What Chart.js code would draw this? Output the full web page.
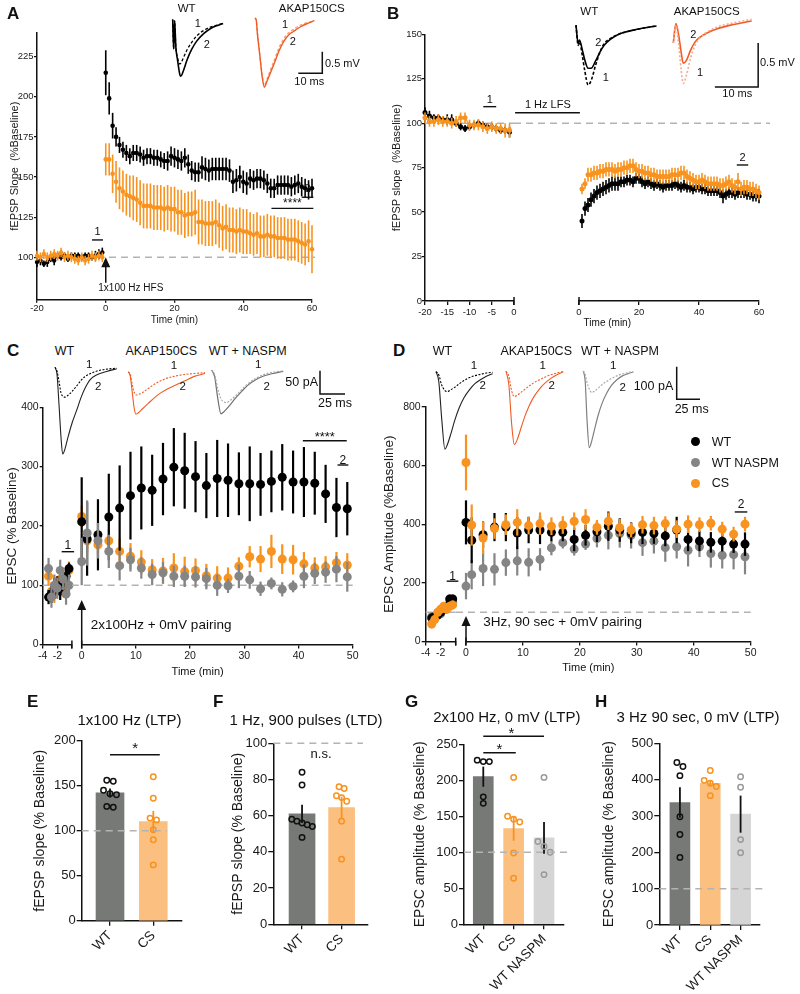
<!DOCTYPE html>
<html>
<head>
<meta charset="utf-8">
<title>AKAP150CS plasticity</title>
<script src="https://cdn.jsdelivr.net/npm/chart.js@4.4.1/dist/chart.umd.min.js"></script>
<style>
  html, body { margin: 0; background: #fff; }
  #fig { position: relative; width: 800px; height: 994px; overflow: hidden; background: #fff; }
  #fig canvas { position: absolute; }
  .t { position: absolute; color: #111; white-space: nowrap; z-index: 5; }
</style>
</head>
<body>
<div id="fig"></div>
<script>
// ---------- data ----------
// A: fEPSP slope, 1x100 Hz HFS
const aBaseTime = [-20,-19,-18,-17,-16,-15,-14,-13,-12,-11,-10,-9,-8,-7,-6,-5,-4,-3,-2,-1];
const aPostTime = [0,1,2,3,4,5,6,7,8,9,10,11,12,13,14,15,16,17,18,19,20,21,22,23,24,25,26,27,28,29,30,
  31,32,33,34,35,36,37,38,39,40,41,42,43,44,45,46,47,48,49,50,51,52,53,54,55,56,57,58,59,60];
const aYTicks = [100,125,150,175,200,225];
const aWtBase = [97,98,96,97,99,98,101,100,101,99,101,101,101,100,101,101,100,101,102,103];
const aWtBaseErr = [3,3,2,3,2,3,2,2,2,2,2,2,2,2,2,2,2,3,3,3];
const aCsBase = [101,100,102,100,101,102,101,103,100,101,100,99,98,100,98,99,101,100,101,100];
const aCsBaseErr = [3,3,3,3,3,3,3,3,3,3,3,3,3,3,3,3,3,3,3,3];
const aWtPost = [215,199,182,175,170,167,165,163,165,165,
  164,162,163,163,162,162,161,160,160,163,
  162,161,160,162,158,154,153,153,156,155,
  154,155,155,155,155,155,154,147,148,150,
  147,146,149,148,149,149,148,146,143,143,
  145,145,145,145,144,145,146,144,143,142,
  143];
const aWtPostErr = [14,10,8,6,5,5,5,5,5,5,
  5,5,5,5,5,5,5,5,6,6,
  6,6,6,6,6,6,6,6,7,7,
  7,7,7,7,7,7,7,7,7,7,
  7,7,6,6,6,6,6,6,6,6,
  6,6,6,6,6,6,6,6,6,6,
  6];
const aCsPost = [161,161,152,147,143,141,139,138,137,136,
  134,132,132,132,131,131,131,130,131,130,
  130,128,128,126,127,127,128,122,122,121,
  121,121,122,120,118,119,117,117,116,117,
  116,116,115,114,115,113,113,114,113,113,
  112,112,112,111,111,111,110,109,108,110,
  105];
const aCsPostErr = [10,10,12,13,13,13,13,13,14,14,
  14,14,14,14,14,14,14,14,14,14,
  14,14,14,14,14,14,14,14,14,14,
  14,14,14,14,14,14,14,14,14,14,
  14,14,13,13,13,13,13,13,13,13,
  13,13,13,13,13,13,13,13,13,13,
  15];

// B: fEPSP slope, 1 Hz LFS
const bPreTime = [-20,-19,-18,-17,-16,-15,-14,-13,-12,-11,-10,-9,-8,-7,-6,-5,-4,-3,-2,-1];
const bPostTime = [1,2,3,4,5,6,7,8,9,10,11,12,13,14,15,16,17,18,19,20,21,22,23,24,25,26,27,28,29,30,
  31,32,33,34,35,36,37,38,39,40,41,42,43,44,45,46,47,48,49,50,51,52,53,54,55,56,57,58,59,60];
const bWtPre = [106,104,103,103,102,102,102,100,98,97,98,99,100,99,98,98,97,96,96,95];
const bWtPreErr = [3,3,2,2,2,3,3,2,2,2,2,2,2,2,2,2,2,2,2,3];
const bCsPre = [103,101,101,102,101,101,100,101,103,103,99,99,99,98,97,98,97,97,96,96];
const bCsPreErr = [3,3,3,3,3,3,3,3,3,3,3,3,3,3,3,3,3,3,4,4];
const bWtPost = [45,52,54,57,59,61,62,63,64,65,
  66,66,66,67,67,68,68,67,69,69,
  67,66,67,66,65,66,65,64,65,65,
  65,66,65,64,65,64,64,63,64,64,
  63,63,62,62,62,62,61,59,60,61,
  61,60,61,61,61,60,60,59,59,59];
const bWtPostErr = [4,4,4,4,4,4,4,4,4,4,
  4,4,4,3,3,3,3,3,3,3,
  3,3,3,3,3,3,3,3,3,3,
  3,3,3,3,3,3,3,3,3,3,
  3,3,3,3,3,3,3,4,3,3,
  3,3,3,3,3,3,3,3,3,4];
const bCsPost = [63,66,71,71,72,72,73,73,74,74,
  74,73,74,74,75,75,76,76,74,73,
  73,72,72,71,71,70,70,70,70,70,
  71,71,71,72,72,70,69,68,67,67,
  68,67,66,66,66,66,65,65,66,67,
  65,64,67,63,64,64,63,63,62,61];
const bCsPostErr = [3,3,4,4,4,4,4,4,4,4,
  4,4,4,4,4,4,4,4,4,4,
  4,4,4,4,4,4,4,4,4,4,
  4,4,4,4,4,4,4,4,4,4,
  4,4,4,4,4,4,4,4,4,4,
  4,4,5,4,4,4,4,4,4,4];

// C: EPSC, 2x100 Hz + 0 mV pairing
const cdPreTime = [-3.2,-2.8,-2.4,-2.0,-1.6,-1.2,-0.8,-0.4];
const cdPostTime = [0,1,3,5,7,9,11,13,15,17,19,21,23,25,27,29,31,33,35,37,39,41,43,45,47,49];
const cdPreTicks = [-4,-2,0];
const cdPreLabels = ['-4','-2',''];
const cWtPre = [80,85,95,100,90,105,115,128];
const cWtPreErr = [12,15,18,15,15,15,15,10];
const cCsPre = [115,90,85,100,110,95,100,125];
const cCsPreErr = [15,15,15,15,15,15,15,15];
const cNaPre = [128,80,100,95,125,110,85,100];
const cNaPreErr = [18,18,18,18,18,18,18,18];
const cWtPost = [207,178,185,215,230,251,264,260,279,299,293,283,268,280,277,271,271,270,275,282,274,274,272,254,231,229];
const cWtPostErr = [75,62,60,73,72,74,70,60,61,66,64,60,55,65,62,53,63,53,52,56,53,59,53,49,50,45];
const cCsPost = [216,175,168,175,157,149,139,126,124,129,123,125,116,112,112,132,148,144,157,144,143,136,129,131,138,134];
const cCsPostErr = [18,20,15,20,22,22,20,18,22,25,25,20,20,20,18,15,18,22,28,25,25,20,18,18,18,20];
const cNaPost = [140,188,175,157,133,143,129,118,121,115,115,114,111,100,99,115,109,94,103,93,98,115,120,122,127,114];
const cNaPostErr = [40,55,30,28,25,20,18,18,18,18,18,18,18,18,12,20,15,12,10,12,10,20,18,18,22,25];

// D: EPSC amplitude, 3 Hz 90 s + 0 mV pairing
const dWtPre = [80,85,90,100,110,120,145,145];
const dWtPreErr = [15,15,15,15,15,15,15,15];
const dCsPre = [60,75,100,110,120,110,120,125];
const dCsPreErr = [15,15,15,15,15,15,15,15];
const dNaPre = [85,80,90,95,110,120,130,135];
const dNaPreErr = [15,15,15,15,15,15,15,15];
const dWtPost = [406,345,364,390,390,370,380,380,372,372,348,362,374,393,380,370,372,368,360,380,348,343,338,342,332,332];
const dWtPostErr = [75,78,45,48,48,55,45,48,30,30,40,35,35,50,40,35,40,35,35,45,40,35,35,35,30,40];
const dCsPost = [610,397,353,385,398,406,395,402,393,397,410,416,389,410,388,380,398,395,402,383,400,398,403,383,366,400];
const dCsPostErr = [95,70,55,35,35,45,30,38,30,30,30,35,25,30,30,25,30,30,25,30,30,25,25,25,25,25];
const dNaPost = [189,228,249,246,269,275,270,280,319,337,315,332,351,362,368,362,337,342,320,323,311,323,300,294,296,289];
const dNaPostErr = [45,50,60,55,45,50,48,38,25,20,22,20,30,48,48,45,45,42,48,40,55,35,48,45,50,60];

// E-H: summary bars (mean, SEM, individual cells)
const eCats = ['WT', 'CS'];
const eMeans = [142, 110];
const eSem = [5, 12];
const eWtDots = [156,155,145,141,140,127,126];
const eCsDots = [160,136,114,112,101,90,62];
const fCats = ['WT', 'CS'];
const fMeans = [61, 64.5];
const fSem = [5, 6];
const fWtDots = [84,77,58,57,56,55,54,48];
const fCsDots = [76,75,71,70,68,57,36];
const ghCats = ['WT', 'CS', 'WT NASPM'];
const gMeans = [205, 133, 120];
const gSem = [14, 17, 22];
const gWtDots = [228,226,226,177,168];
const gCsDots = [204,150,146,142,99,64];
const gNaDots = [204,115,108,100,69];
const hMeans = [337, 390, 305];
const hSem = [42, 8, 51];
const hWtDots = [447,436,411,298,249,186];
const hCsDots = [425,398,390,381,356];
const hNaDots = [408,379,235,199];

// example traces (ms, mV or pA)
const aWtTrT = [0,0.4,0.8,1.3,2,3,3.4,4.5,6,8,10,13,16,19,21];
const aWtTr2 = [0.08,-0.6,0.05,-0.55,-0.85,-1.2,-1.23,-1.1,-0.85,-0.6,-0.42,-0.24,-0.12,-0.05,-0.01];
const aWtTr1 = [0.08,-0.6,0.05,-0.55,-0.8,-0.95,-0.93,-0.8,-0.62,-0.44,-0.3,-0.17,-0.09,-0.04,-0.01];
const aCsTrT = [0,0.5,1,2,3,3.9,5,6.5,8,10,12,14,16,19,22,24.7];
const aCsTr2 = [0.06,0.02,-0.3,-0.8,-1.3,-1.54,-1.4,-1.2,-0.99,-0.7,-0.48,-0.33,-0.25,-0.14,-0.06,0];
const aCsTr1 = [0.06,0.02,-0.28,-0.78,-1.27,-1.5,-1.35,-1.13,-0.92,-0.63,-0.42,-0.28,-0.2,-0.1,-0.04,0];
const bWtTrT = [0,0.5,0.8,1.5,2,2.8,3.5,4.5,5.5,6.5,8,10,13,16,18.6];
const bWtTr2 = [0.01,-0.2,-0.16,-0.28,-0.38,-0.48,-0.48,-0.4,-0.3,-0.22,-0.15,-0.09,-0.05,-0.02,0];
const bWtTr1 = [0.01,-0.22,-0.18,-0.35,-0.5,-0.67,-0.62,-0.45,-0.3,-0.2,-0.14,-0.09,-0.05,-0.02,0];
const bCsTrT = [0,0.6,1.2,1.8,2.3,3,4,5,6,8,10,13,16,18.1];
const bCsTr2 = [-0.25,-0.03,-0.15,-0.35,-0.48,-0.45,-0.33,-0.24,-0.19,-0.13,-0.09,-0.05,-0.02,0];
const bCsTr1 = [-0.25,-0.05,-0.25,-0.55,-0.71,-0.62,-0.42,-0.28,-0.2,-0.12,-0.07,-0.03,0,0.02];
const cWtTrT = [0,2,4,6,7.7,10,13,17,21.7,26,30,35,42,51.7,61.7];
const cWtTr2 = [0,-15,-80,-150,-186,-175,-150,-120,-92,-65,-45,-27,-16,-9,-3];
const cWtTr1 = [0,-8,-30,-55,-62,-64,-60,-52,-40,-28,-20,-14,-8,-4,-2];
const cCsTrT = [0,2,4,6,7.7,10,14,20,26,32,40,48,56,66,76.7];
const cCsTr2 = [0,-10,-45,-80,-91,-88,-80,-68,-56,-46,-36,-28,-20,-10,-4];
const cCsTr1 = [0,-6,-28,-45,-50,-49,-45,-36,-27,-20,-13,-9,-6,-4,-2];
const cNaTrT = [0,3,6,9.3,12,14.3,18,24,30,36,44,52,60,71.6];
const cNaTr2 = [0,-15,-60,-94,-90,-85,-76,-60,-46,-33,-21,-13,-8,-3];
const cNaTr1 = [0,-10,-40,-62,-68,-70,-66,-55,-42,-30,-18,-10,-5,-2];
const dWtTrT = [0,3,6,9.6,12,16,20,25,30,36,42,48,54,60.7];
const dWtTr2 = [0,-30,-140,-238,-225,-190,-150,-110,-80,-55,-36,-24,-14,-6];
const dWtTr1 = [0,-10,-40,-58,-61,-55,-48,-37,-27,-18,-12,-8,-4,-2];
const dCsTrT = [0,3,6,8.9,12,16,20,25,30,36,42,48,55,61.4];
const dCsTr2 = [0,-40,-160,-225,-210,-175,-140,-105,-78,-54,-36,-22,-10,-2];
const dCsTr1 = [0,-15,-60,-78,-74,-65,-56,-45,-35,-26,-18,-11,-5,-1];
const dNaTrT = [0,2,4,6.4,9,12,16,20,25,30,36,42,48,53.6];
const dNaTr2 = [0,-30,-150,-235,-215,-180,-135,-100,-68,-45,-27,-15,-8,-3];
const dNaTr1 = [0,-10,-35,-55,-66,-62,-52,-42,-32,-23,-15,-9,-5,-2];

// ---------- styling ----------
const FONT = "'Liberation Sans', Arial, Helvetica, sans-serif";
const BLACK = '#000000';
const ORANGE = '#f7931e';
const GRAY = '#858585';
const RED = '#f15a24';
const INK = '#111111';

Chart.defaults.font.family = FONT;
Chart.defaults.color = '#1a1a1a';
Chart.defaults.animation = false;
Chart.defaults.events = [];
Chart.defaults.plugins.legend.display = false;
Chart.defaults.plugins.tooltip.enabled = false;

const fig = document.getElementById('fig');

function makeCanvas(left, top, w, h) {
  const c = document.createElement('canvas');
  c.width = w;
  c.height = h;
  c.style.left = left + 'px';
  c.style.top = top + 'px';
  c.style.width = w + 'px';
  c.style.height = h + 'px';
  fig.appendChild(c);
  return c;
}

function label(str, x, y, size, anchor = 'center', bold = false) {
  const d = document.createElement('div');
  d.className = 't';
  d.textContent = str;
  const tx = anchor === 'left' ? '0' : anchor === 'right' ? '-100%' : '-50%';
  d.style.left = x + 'px';
  d.style.top = y + 'px';
  d.style.transform = `translate(${tx}, -50%)`;
  d.style.font = `${bold ? 'bold ' : ''}${size}px/1 ${FONT}`;
  fig.appendChild(d);
}

function legendDot(x, y, r, color) {
  const d = document.createElement('div');
  d.style.cssText = `position:absolute;left:${x - r}px;top:${y - r}px;width:${2 * r}px;height:${2 * r}px;border-radius:50%;background:${color};z-index:5`;
  fig.appendChild(d);
}

// error bars drawn from each dataset's "errors" array through its y scale
const errorBarPlugin = {
  id: 'errorBars',
  beforeDatasetDraw(chart, args) { if (args.meta.type !== 'bar') drawErrors(chart, args); },
  afterDatasetDraw(chart, args) { if (args.meta.type === 'bar') drawErrors(chart, args); }
};
function drawErrors(chart, args) {
  const ds = chart.data.datasets[args.index];
  if (!ds.errors) return;
  const yScale = chart.scales[args.meta.yAxisID];
  const ctx = chart.ctx;
  ctx.save();
  ctx.lineWidth = ds.errorWidth || 1.5;
  args.meta.data.forEach((el, i) => {
    const raw = ds.data[i];
    const v = typeof raw === 'object' ? raw.y : raw;
    const e = ds.errors[i];
    if (e == null) return;
    ctx.strokeStyle = Array.isArray(ds.errorColor) ? ds.errorColor[i] : ds.errorColor;
    ctx.beginPath();
    ctx.moveTo(el.x, yScale.getPixelForValue(v - e));
    ctx.lineTo(el.x, yScale.getPixelForValue(v + e));
    ctx.stroke();
  });
  ctx.restore();
}
Chart.register(errorBarPlugin);

// annotations in data coordinates (reference line, bars, text, arrows, axis-break caps)
function marks(items) {
  const under = it => it.kind === 'dash' && !it.top;
  return {
    id: 'marks',
    beforeDatasetsDraw(chart) { drawMarks(chart, items.filter(under)); },
    afterDatasetsDraw(chart) { drawMarks(chart, items.filter(it => !under(it))); }
  };
}
function drawMarks(chart, items) {
  const { ctx, chartArea: a } = chart;
  const px = v => chart.scales.x.getPixelForValue(v);
  const py = v => chart.scales.y.getPixelForValue(v);
  ctx.save();
  items.forEach(it => {
    if (it.kind === 'dash') {
      const x0 = it.x0 != null ? px(it.x0) : a.left - (it.extL || 0);
      const x1 = it.x1 != null ? px(it.x1) : a.right + (it.extR || 0);
      ctx.strokeStyle = '#b3b3b3';
      ctx.lineWidth = 1.5;
      ctx.setLineDash([7, 5]);
      ctx.beginPath();
      ctx.moveTo(x0, py(it.y));
      ctx.lineTo(x1, py(it.y));
      ctx.stroke();
      ctx.setLineDash([]);
    } else if (it.kind === 'bar') {
      ctx.strokeStyle = INK;
      ctx.lineWidth = 1.4;
      ctx.beginPath();
      ctx.moveTo(px(it.x0), py(it.y));
      ctx.lineTo(px(it.x1), py(it.y));
      ctx.stroke();
    } else if (it.kind === 'text') {
      ctx.fillStyle = INK;
      ctx.font = `${it.size || 11}px ${FONT}`;
      ctx.textAlign = it.align || 'center';
      ctx.textBaseline = 'middle';
      ctx.fillText(it.text, px(it.x), py(it.y));
    } else if (it.kind === 'arrow') {
      const X = px(it.x), Y0 = py(it.y0), Y1 = py(it.y1);
      ctx.strokeStyle = INK;
      ctx.fillStyle = INK;
      ctx.lineWidth = 1.5;
      ctx.beginPath();
      ctx.moveTo(X, Y0);
      ctx.lineTo(X, Y1 + 8);
      ctx.stroke();
      ctx.beginPath();
      ctx.moveTo(X, Y1);
      ctx.lineTo(X - 4.5, Y1 + 10);
      ctx.lineTo(X + 4.5, Y1 + 10);
      ctx.closePath();
      ctx.fill();
    } else if (it.kind === 'cap') {
      const X = px(it.x);
      ctx.strokeStyle = INK;
      ctx.lineWidth = 1.5;
      ctx.beginPath();
      ctx.moveTo(X, a.bottom - 4);
      ctx.lineTo(X, a.bottom + 4);
      ctx.stroke();
    }
  });
  ctx.restore();
}

function axis(o) {
  const s = {
    type: 'linear', min: o.min, max: o.max, display: o.display !== false, offset: false,
    border: { display: true, color: INK, width: 1.5 },
    grid: { drawOnChartArea: false, drawTicks: true, offset: false, tickLength: o.tl ?? 3, color: INK, lineWidth: 1.3 },
    ticks: { color: '#1a1a1a', font: { size: o.font ?? 9.5 }, padding: o.pad ?? 1,
             maxRotation: o.rot ?? 0, minRotation: o.rot ?? 0, autoSkip: false, stepSize: o.step }
  };
  if (o.ticks) s.afterBuildTicks = sc => { sc.ticks = o.ticks.map(v => ({ value: v })); };
  if (o.labels) s.ticks.callback = v => { const i = o.ticks.indexOf(v); return i >= 0 ? o.labels[i] : ''; };
  if (o.title) s.title = { display: true, text: o.title, font: { size: o.titleSize ?? 11 }, padding: 0, color: '#1a1a1a' };
  return s;
}

// put the plot area of a chart on box {l,t,r,b}; m is the room kept around it
function framedChart(box, m, cfg) {
  const left = Math.round(box.l - m.l), top = Math.round(box.t - m.t);
  const w = Math.round(box.r + m.r - left), h = Math.round(box.b + m.b - top);
  const padL = box.l - left, padT = box.t - top, padR = left + w - box.r, padB = top + h - box.b;
  const canvas = makeCanvas(left, top, w, h);
  const o = cfg.options;
  const yShown = o.scales.y.display !== false;
  o.responsive = false;
  o.layout = { padding: { top: padT, right: padR, left: yShown ? 0 : padL, bottom: 0 } };
  o.scales.x.afterFit = s => { s.height = padB; };
  if (yShown) o.scales.y.afterFit = s => { s.width = padL; };
  return new Chart(canvas, cfg);
}

function series(t, v, err, color, o = {}) {
  return {
    data: t.map((x, i) => ({ x, y: v[i] })),
    errors: err, errorColor: color, errorWidth: o.ew || 1.6,
    pointRadius: o.r || 2.5, pointBackgroundColor: color, pointBorderColor: color, pointBorderWidth: 0,
    borderColor: color, borderWidth: o.line ? 1.1 : 0, showLine: !!o.line, clip: false
  };
}

// example-trace inset: origin (ox,oy) is t=0, v=0; sx px per ms, sy px per unit
function traceInset(o) {
  const left = Math.round(o.ox + o.t[0] * o.sx), top = Math.round(o.oy - o.v[1] * o.sy);
  const w = Math.round((o.t[1] - o.t[0]) * o.sx), h = Math.round((o.v[1] - o.v[0]) * o.sy);
  const t0 = (left - o.ox) / o.sx, t1 = t0 + w / o.sx;
  const v1 = (o.oy - top) / o.sy, v0 = v1 - h / o.sy;
  const canvas = makeCanvas(left, top, w, h);
  const plugins = [];
  if (o.bar) {
    const b = o.bar;
    plugins.push({
      id: 'scaleBar',
      afterDatasetsDraw(chart) {
        const { ctx, scales: { x, y } } = chart;
        const cx = x.getPixelForValue(b.t), cy = y.getPixelForValue(b.v);
        const hx = x.getPixelForValue(b.side === 'right' ? b.t - b.dt : b.t + b.dt);
        const vy = y.getPixelForValue(b.v + b.dv);
        ctx.save();
        ctx.strokeStyle = INK;
        ctx.lineWidth = 1.5;
        ctx.beginPath();
        ctx.moveTo(hx, cy);
        ctx.lineTo(cx, cy);
        ctx.lineTo(cx, vy);
        ctx.stroke();
        ctx.restore();
      }
    });
  }
  return new Chart(canvas, {
    type: 'line',
    data: {
      datasets: o.traces.map(tr => ({
        data: tr.t.map((t, i) => ({ x: t, y: tr.v[i] })),
        borderColor: tr.color, borderWidth: tr.width || 1.3, borderDash: tr.dash || [],
        pointRadius: 0, cubicInterpolationMode: 'monotone', clip: false
      }))
    },
    options: {
      responsive: false,
      layout: { padding: 0 },
      scales: {
        x: { type: 'linear', display: false, min: t0, max: t1 },
        y: { type: 'linear', display: false, min: v0, max: v1 }
      }
    },
    plugins
  });
}

// simple beeswarm: values closer than tol share a row and spread sideways
function swarm(groups, tol, step) {
  const pts = [];
  groups.forEach((vals, gi) => {
    const sorted = [...vals].sort((p, q) => q - p);
    let cluster = [];
    const flush = () => {
      cluster.forEach((v, k) => pts.push({ x: gi + (k - (cluster.length - 1) / 2) * step, y: v, g: gi }));
      cluster = [];
    };
    sorted.forEach(v => {
      if (cluster.length && cluster[cluster.length - 1] - v > tol) flush();
      cluster.push(v);
    });
    flush();
  });
  return pts;
}

const BAR_FILL = ['#777977', '#fbbf80', '#d5d5d5'];
const DOT_COLOR = [INK, ORANGE, '#9a9a9a'];
const ERR_COLOR = [INK, ORANGE, INK];

function barPanel(box, m, o) {
  const pts = swarm(o.dots, o.max * 0.035, o.step);
  return framedChart(box, m, {
    type: 'bar',
    data: {
      datasets: [
        {
          type: 'scatter',
          data: pts.map(p => ({ x: p.x, y: p.y })),
          pointRadius: 2.7, pointBorderWidth: 1.5,
          pointBorderColor: pts.map(p => DOT_COLOR[p.g]),
          pointBackgroundColor: 'rgba(0,0,0,0)', clip: false
        },
        {
          type: 'bar',
          data: o.cats.map((c, i) => ({ x: i, y: o.means[i] })),
          backgroundColor: BAR_FILL.slice(0, o.cats.length),
          barThickness: o.barW,
          errors: o.sems, errorColor: ERR_COLOR.slice(0, o.cats.length), errorWidth: 1.8, clip: false
        }
      ]
    },
    options: {
      scales: {
        x: axis({ min: o.xr[0], max: o.xr[1], ticks: o.cats.map((c, i) => i), labels: o.cats, font: 13.5, rot: 45, tl: 5, pad: 2 }),
        y: axis({ min: 0, max: o.max, step: o.yStep, font: 13, tl: 5, pad: 1, title: o.yTitle, titleSize: 14 })
      }
    },
    plugins: [marks(o.marks)]
  });
}

// ---------- A ----------
framedChart({ l: 37, r: 312, t: 32.6, b: 299.8 }, { l: 28.6, t: 12, r: 14, b: 26.2 }, {
  type: 'scatter',
  data: {
    datasets: [
      series(aBaseTime, aCsBase, aCsBaseErr, ORANGE, { r: 2.2, line: true }),
      series(aPostTime, aCsPost, aCsPostErr, ORANGE, { r: 2.3 }),
      series(aBaseTime, aWtBase, aWtBaseErr, BLACK, { r: 2.2, line: true }),
      series(aPostTime, aWtPost, aWtPostErr, BLACK, { r: 2.3 })
    ]
  },
  options: {
    scales: {
      x: axis({ min: -20, max: 60, step: 20, tl: 3, pad: 0, font: 9.5, title: 'Time (min)', titleSize: 10 }),
      y: axis({ min: 73.5, max: 240, ticks: aYTicks, tl: 3, pad: 0.5, font: 9.5, title: 'fEPSP Slope  (%Baseline)', titleSize: 11 })
    }
  },
  plugins: [marks([
    { kind: 'dash', y: 100, extR: 3 },
    { kind: 'arrow', x: 0, y0: 84.2, y1: 100 },
    { kind: 'text', x: -2.17, y: 80.7, text: '1x100 Hz HFS', size: 10, align: 'left' },
    { kind: 'bar', x0: -4, x1: -0.8, y: 110.8 },
    { kind: 'text', x: -2.4, y: 115.5, text: '1', size: 11 },
    { kind: 'bar', x0: 57, x1: 60.4, y: 137.4 },
    { kind: 'text', x: 58.7, y: 142.3, text: '2', size: 11 },
    { kind: 'bar', x0: 48.2, x1: 60.4, y: 130.5 },
    { kind: 'text', x: 54.3, y: 133.2, text: '****', size: 12 }
  ])]
});

// ---------- B (broken time axis) ----------
framedChart({ l: 425, r: 514, t: 34.3, b: 301 }, { l: 34.6, t: 10, r: 6, b: 20 }, {
  type: 'scatter',
  data: {
    datasets: [
      series(bPreTime, bCsPre, bCsPreErr, ORANGE, { r: 2.5, line: true }),
      series(bPreTime, bWtPre, bWtPreErr, BLACK, { r: 2.5, line: true })
    ]
  },
  options: {
    scales: {
      x: axis({ min: -20, max: 0, step: 5, tl: 4, pad: 2, font: 9.5 }),
      y: axis({ min: 0, max: 150, step: 25, tl: 3, pad: 0, font: 9.5, title: 'fEPSP slope  (%Baseline)', titleSize: 11 })
    }
  },
  plugins: [marks([
    { kind: 'dash', y: 100 },
    { kind: 'bar', x0: -6.9, x1: -4, y: 109.3 },
    { kind: 'text', x: -5.45, y: 113.2, text: '1', size: 11 },
    { kind: 'cap', x: 0 }
  ])]
});
framedChart({ l: 579, r: 759, t: 34.3, b: 301 }, { l: 65, t: 10, r: 14, b: 20 }, {
  type: 'scatter',
  data: {
    datasets: [
      series(bPostTime, bCsPost, bCsPostErr, ORANGE, { r: 2.5 }),
      series(bPostTime, bWtPost, bWtPostErr, BLACK, { r: 2.5 })
    ]
  },
  options: {
    scales: {
      x: axis({ min: 0, max: 60, step: 20, tl: 4, pad: 2, font: 9.5 }),
      y: axis({ min: 0, max: 150, display: false })
    }
  },
  plugins: [marks([
    { kind: 'dash', y: 100, extL: 65, extR: 11 },
    { kind: 'bar', x0: -21.3, x1: 0.3, y: 105.9 },
    { kind: 'text', x: -10.4, y: 110.2, text: '1 Hz LFS', size: 11 },
    { kind: 'bar', x0: 52.6, x1: 56.4, y: 76.5 },
    { kind: 'text', x: 54.5, y: 80.2, text: '2', size: 11 },
    { kind: 'cap', x: 0 }
  ])]
});

// ---------- C ----------
framedChart({ l: 42.7, r: 71.9, t: 407.3, b: 644.5 }, { l: 38.5, t: 10, r: 6, b: 20 }, {
  type: 'scatter',
  data: {
    datasets: [
      series(cdPreTime, cNaPre, cNaPreErr, GRAY, { r: 4.5, ew: 2.2 }),
      series(cdPreTime, cWtPre, cWtPreErr, BLACK, { r: 4.5, ew: 2.2 }),
      series(cdPreTime, cCsPre, cCsPreErr, ORANGE, { r: 4.5, ew: 2.2 })
    ]
  },
  options: {
    scales: {
      x: axis({ min: -4, max: 0, ticks: cdPreTicks, labels: cdPreLabels, tl: 4, pad: 1, font: 10.5 }),
      y: axis({ min: 0, max: 400, step: 100, tl: 3, pad: 1, font: 10.5, title: 'EPSC (% Baseline)', titleSize: 13.5 })
    }
  },
  plugins: [marks([
    { kind: 'dash', y: 100 },
    { kind: 'bar', x0: -1.4, x1: 0.3, y: 156.5 },
    { kind: 'text', x: -0.55, y: 166.5, text: '1', size: 12 },
    { kind: 'cap', x: 0 }
  ])]
});
framedChart({ l: 81.7, r: 352.7, t: 407.3, b: 644.5 }, { l: 10, t: 10, r: 12, b: 20 }, {
  type: 'scatter',
  data: {
    datasets: [
      series(cdPostTime, cNaPost, cNaPostErr, GRAY, { r: 4.5, ew: 2.2 }),
      series(cdPostTime, cWtPost, cWtPostErr, BLACK, { r: 4.5, ew: 2.2 }),
      series(cdPostTime, cCsPost, cCsPostErr, ORANGE, { r: 4.5, ew: 2.2 })
    ]
  },
  options: {
    scales: {
      x: axis({ min: 0, max: 50, step: 10, tl: 4, pad: 1, font: 10.5 }),
      y: axis({ min: 0, max: 400, display: false })
    }
  },
  plugins: [marks([
    { kind: 'dash', y: 100, extL: 10 },
    { kind: 'arrow', x: 0, y0: 0, y1: 75 },
    { kind: 'text', x: 1.66, y: 32.9, text: '2x100Hz + 0mV pairing', size: 13.5, align: 'left' },
    { kind: 'bar', x0: 40.8, x1: 48.9, y: 343.7 },
    { kind: 'text', x: 44.85, y: 349, text: '****', size: 13 },
    { kind: 'bar', x0: 47.2, x1: 49.2, y: 302.7 },
    { kind: 'text', x: 48.2, y: 310, text: '2', size: 12 },
    { kind: 'cap', x: 0 }
  ])]
});

// ---------- D ----------
framedChart({ l: 425.7, r: 455.7, t: 406.7, b: 641.6 }, { l: 44.9, t: 10, r: 6, b: 20 }, {
  type: 'scatter',
  data: {
    datasets: [
      series(cdPreTime, dCsPre, dCsPreErr, ORANGE, { r: 4.5, ew: 2.2 }),
      series(cdPreTime, dWtPre, dWtPreErr, BLACK, { r: 4.5, ew: 2.2 }),
      series(cdPreTime, dNaPre, dNaPreErr, GRAY, { r: 4.5, ew: 2.2 })
    ]
  },
  options: {
    scales: {
      x: axis({ min: -4, max: 0, ticks: cdPreTicks, labels: cdPreLabels, tl: 4, pad: 1, font: 10.5 }),
      y: axis({ min: 0, max: 800, step: 200, tl: 4, pad: 1, font: 10.5, title: 'EPSC Amplitude (%Baseline)', titleSize: 13.5 })
    }
  },
  plugins: [marks([
    { kind: 'dash', y: 100 },
    { kind: 'bar', x0: -1.2, x1: 0.35, y: 205.8 },
    { kind: 'text', x: -0.42, y: 221, text: '1', size: 12 },
    { kind: 'cap', x: 0 }
  ])]
});
framedChart({ l: 466, r: 750.7, t: 406.7, b: 641.6 }, { l: 10, t: 10, r: 14, b: 20 }, {
  type: 'scatter',
  data: {
    datasets: [
      series(cdPostTime, dCsPost, dCsPostErr, ORANGE, { r: 4.5, ew: 2.2 }),
      series(cdPostTime, dWtPost, dWtPostErr, BLACK, { r: 4.5, ew: 2.2 }),
      series(cdPostTime, dNaPost, dNaPostErr, GRAY, { r: 4.5, ew: 2.2 })
    ]
  },
  options: {
    scales: {
      x: axis({ min: 0, max: 50, step: 10, tl: 4, pad: 1, font: 10.5 }),
      y: axis({ min: 0, max: 800, display: false })
    }
  },
  plugins: [marks([
    { kind: 'dash', y: 100, extL: 10 },
    { kind: 'arrow', x: 0, y0: 0, y1: 87 },
    { kind: 'text', x: 3.04, y: 64.4, text: '3Hz, 90 sec + 0mV pairing', size: 13.5, align: 'left' },
    { kind: 'bar', x0: 47.2, x1: 49.4, y: 441.5 },
    { kind: 'text', x: 48.3, y: 465, text: '2', size: 12 },
    { kind: 'cap', x: 0 }
  ])]
});

// ---------- E-H ----------
barPanel({ l: 81.7, r: 181.7, t: 740.7, b: 920.7 }, { l: 50.1, t: 45, r: 14, b: 70 }, {
  cats: eCats, means: eMeans, sems: eSem, dots: [eWtDots, eCsDots], max: 200, yStep: 50, step: 0.15,
  xr: [-0.654, 1.656], barW: 28, yTitle: 'fEPSP slope (% Baseline)',
  marks: [
    { kind: 'dash', y: 100, x1: 1.31, top: true },
    { kind: 'bar', x0: 0, x1: 1.15, y: 184.4 },
    { kind: 'text', x: 0.58, y: 191.4, text: '*', size: 15 }
  ]
});
barPanel({ l: 273.3, r: 367.7, t: 743.3, b: 924.3 }, { l: 43.4, t: 45, r: 14, b: 66 }, {
  cats: fCats, means: fMeans, sems: fSem, dots: [fWtDots, fCsDots], max: 100, yStep: 20, step: 0.13,
  xr: [-0.727, 1.66], barW: 26, yTitle: 'fEPSP slope (% Baseline)',
  marks: [
    { kind: 'dash', y: 100, x1: 1.54, top: true },
    { kind: 'text', x: 0.48, y: 94, text: 'n.s.', size: 13 }
  ]
});
barPanel({ l: 464, r: 563.3, t: 744.3, b: 924.3 }, { l: 52.4, t: 45, r: 14, b: 69 }, {
  cats: ghCats, means: gMeans, sems: gSem, dots: [gWtDots, gCsDots, gNaDots], max: 250, yStep: 50, step: 0.2,
  xr: [-0.635, 2.635], barW: 20, yTitle: 'EPSC amplitude (% Baseline)',
  marks: [
    { kind: 'dash', y: 100, x1: 2.8, top: true },
    { kind: 'bar', x0: 0, x1: 2, y: 261.1 },
    { kind: 'text', x: 0.93, y: 264.3, text: '*', size: 15 },
    { kind: 'bar', x0: 0, x1: 1.07, y: 238.3 },
    { kind: 'text', x: 0.53, y: 242.1, text: '*', size: 15 }
  ]
});
barPanel({ l: 659.3, r: 760, t: 743.3, b: 925 }, { l: 58.4, t: 45, r: 14, b: 68 }, {
  cats: ghCats, means: hMeans, sems: hSem, dots: [hWtDots, hCsDots, hNaDots], max: 500, yStep: 100, step: 0.2,
  xr: [-0.68, 2.64], barW: 20, yTitle: 'EPSC amplitude (% Baseline)',
  marks: [
    { kind: 'dash', y: 100, x1: 2.8, top: true }
  ]
});

// ---------- example traces ----------
traceInset({ ox: 172.7, oy: 23, sx: 2.4, sy: 43.2, t: [-1, 22], v: [-1.35, 0.2], traces: [
  { t: aWtTrT, v: aWtTr1, color: BLACK, dash: [3, 2] },
  { t: aWtTrT, v: aWtTr2, color: BLACK, width: 1.6 }
] });
traceInset({ ox: 255, oy: 20.7, sx: 2.4, sy: 43.2, t: [-1, 30], v: [-1.65, 0.2], traces: [
  { t: aCsTrT, v: aCsTr2, color: RED, width: 1.4 },
  { t: aCsTrT, v: aCsTr1, color: '#f7a072', dash: [3, 2], width: 1.4 }
], bar: { t: 28.04, v: -1.218, dt: 10, dv: 0.5, side: 'right' } });
traceInset({ ox: 576, oy: 26, sx: 4.33, sy: 88, t: [-1, 20], v: [-0.75, 0.1], traces: [
  { t: bWtTrT, v: bWtTr1, color: BLACK, dash: [3, 2], width: 1.6 },
  { t: bWtTrT, v: bWtTr2, color: BLACK, width: 1.6 }
] });
traceInset({ ox: 673.3, oy: 21, sx: 4.33, sy: 88, t: [-1, 21], v: [-0.8, 0.1], traces: [
  { t: bCsTrT, v: bCsTr1, color: '#f7a88a', dash: [2, 2], width: 1.6 },
  { t: bCsTrT, v: bCsTr2, color: RED, width: 1.6 }
], bar: { t: 19.6, v: -0.75, dt: 10, dv: 0.5, side: 'right' } });
traceInset({ ox: 55, oy: 367.3, sx: 1, sy: 0.466, t: [-2, 64], v: [-195, 8], traces: [
  { t: cWtTrT, v: cWtTr1, color: BLACK, dash: [2, 1.5], width: 1.1 },
  { t: cWtTrT, v: cWtTr2, color: '#222', width: 1.1 }
] });
traceInset({ ox: 128.3, oy: 371.7, sx: 1, sy: 0.466, t: [-2, 79], v: [-100, 8], traces: [
  { t: cCsTrT, v: cCsTr1, color: RED, dash: [2, 1.5], width: 1.1 },
  { t: cCsTrT, v: cCsTr2, color: RED, width: 1.1 }
] });
traceInset({ ox: 211.7, oy: 370, sx: 1, sy: 0.466, t: [-2, 136], v: [-100, 8], traces: [
  { t: cNaTrT, v: cNaTr1, color: '#aaaaaa', dash: [2, 1.5], width: 1.2 },
  { t: cNaTrT, v: cNaTr2, color: '#707070', width: 1.2 }
], bar: { t: 108.3, v: -51.5, dt: 25, dv: 50, side: 'left' } });
traceInset({ ox: 436, oy: 371.7, sx: 0.933, sy: 0.326, t: [-2, 63], v: [-245, 10], traces: [
  { t: dWtTrT, v: dWtTr1, color: BLACK, dash: [2, 1.5], width: 1.1 },
  { t: dWtTrT, v: dWtTr2, color: '#222', width: 1.1 }
] });
traceInset({ ox: 506, oy: 371.2, sx: 0.933, sy: 0.326, t: [-2, 64], v: [-235, 10], traces: [
  { t: dCsTrT, v: dCsTr1, color: RED, dash: [2, 1.5], width: 1.1 },
  { t: dCsTrT, v: dCsTr2, color: RED, width: 1.1 }
] });
traceInset({ ox: 583.3, oy: 371, sx: 0.933, sy: 0.326, t: [-2, 128], v: [-240, 16], traces: [
  { t: dNaTrT, v: dNaTr1, color: '#aaaaaa', dash: [2, 1.5], width: 1.2 },
  { t: dNaTrT, v: dNaTr2, color: '#808080', width: 1.2 }
], bar: { t: 100.1, v: -86.8, dt: 25, dv: 100, side: 'left' } });

// ---------- free text ----------
[['A', 7, 12.5], ['B', 387, 12.5], ['C', 7, 350], ['D', 393, 350],
 ['E', 27, 701], ['F', 213, 701], ['G', 405, 701], ['H', 595, 701]]
  .forEach(([s, x, y]) => label(s, x, y, 17, 'left', true));

label('WT', 186.7, 9.3, 11.5);
label('AKAP150CS', 311.7, 9.3, 11.5);
label('1', 197.7, 22.7, 11);
label('2', 206.7, 44.3, 11);
label('1', 285, 24, 11);
label('2', 292.7, 40.7, 11);
label('0.5 mV', 325, 63.3, 11, 'left');
label('10 ms', 309.3, 81, 11);

label('WT', 589.3, 12.3, 11.5);
label('AKAP150CS', 706.7, 12, 11.5);
label('2', 598.3, 41.7, 11);
label('1', 605.7, 77.3, 11);
label('2', 693.3, 34.3, 11);
label('1', 700, 71.7, 11);
label('0.5 mV', 760, 62, 11, 'left');
label('10 ms', 737.3, 93, 11);
label('Time (min)', 607.3, 323.3, 10);

label('WT', 64.5, 350.7, 12.5);
label('AKAP150CS', 161.3, 350.7, 12.5);
label('WT + NASPM', 247.7, 350.7, 12.5);
label('1', 89.3, 365, 11.5);
label('2', 98.3, 386.7, 11.5);
label('1', 174, 366, 11.5);
label('2', 182.7, 386.7, 11.5);
label('1', 258.3, 365, 11.5);
label('2', 266.7, 386.7, 11.5);
label('50 pA', 318, 381.7, 12.5, 'right');
label('25 ms', 335, 403.3, 12.5);
label('Time (min)', 197.7, 670.7, 11);

label('WT', 442.5, 350.7, 12.5);
label('AKAP150CS', 536.2, 350.7, 12.5);
label('WT + NASPM', 620, 350.7, 12.5);
label('1', 474, 366, 11.5);
label('2', 482.7, 386, 11.5);
label('1', 542.7, 366, 11.5);
label('2', 551.7, 386, 11.5);
label('1', 613.3, 366, 11.5);
label('2', 622.7, 388, 11.5);
label('100 pA', 673.3, 386, 12.5, 'right');
label('25 ms', 691.7, 409, 12.5);
label('Time (min)', 588.3, 667.3, 11);

[['WT', BLACK, 441.7], ['WT NASPM', GRAY, 462.7], ['CS', ORANGE, 483.3]].forEach(([s, c, y]) => {
  legendDot(695, y, 4.5, c);
  label(s, 711.7, y, 12.5, 'left');
});

label('1x100 Hz (LTP)', 129.5, 719, 15);
label('1 Hz, 900 pulses (LTD)', 306, 719, 15);
label('2x100 Hz, 0 mV (LTP)', 506.8, 715.7, 15);
label('3 Hz 90 sec, 0 mV (LTP)', 698, 716, 15);
</script>
</body>
</html>
